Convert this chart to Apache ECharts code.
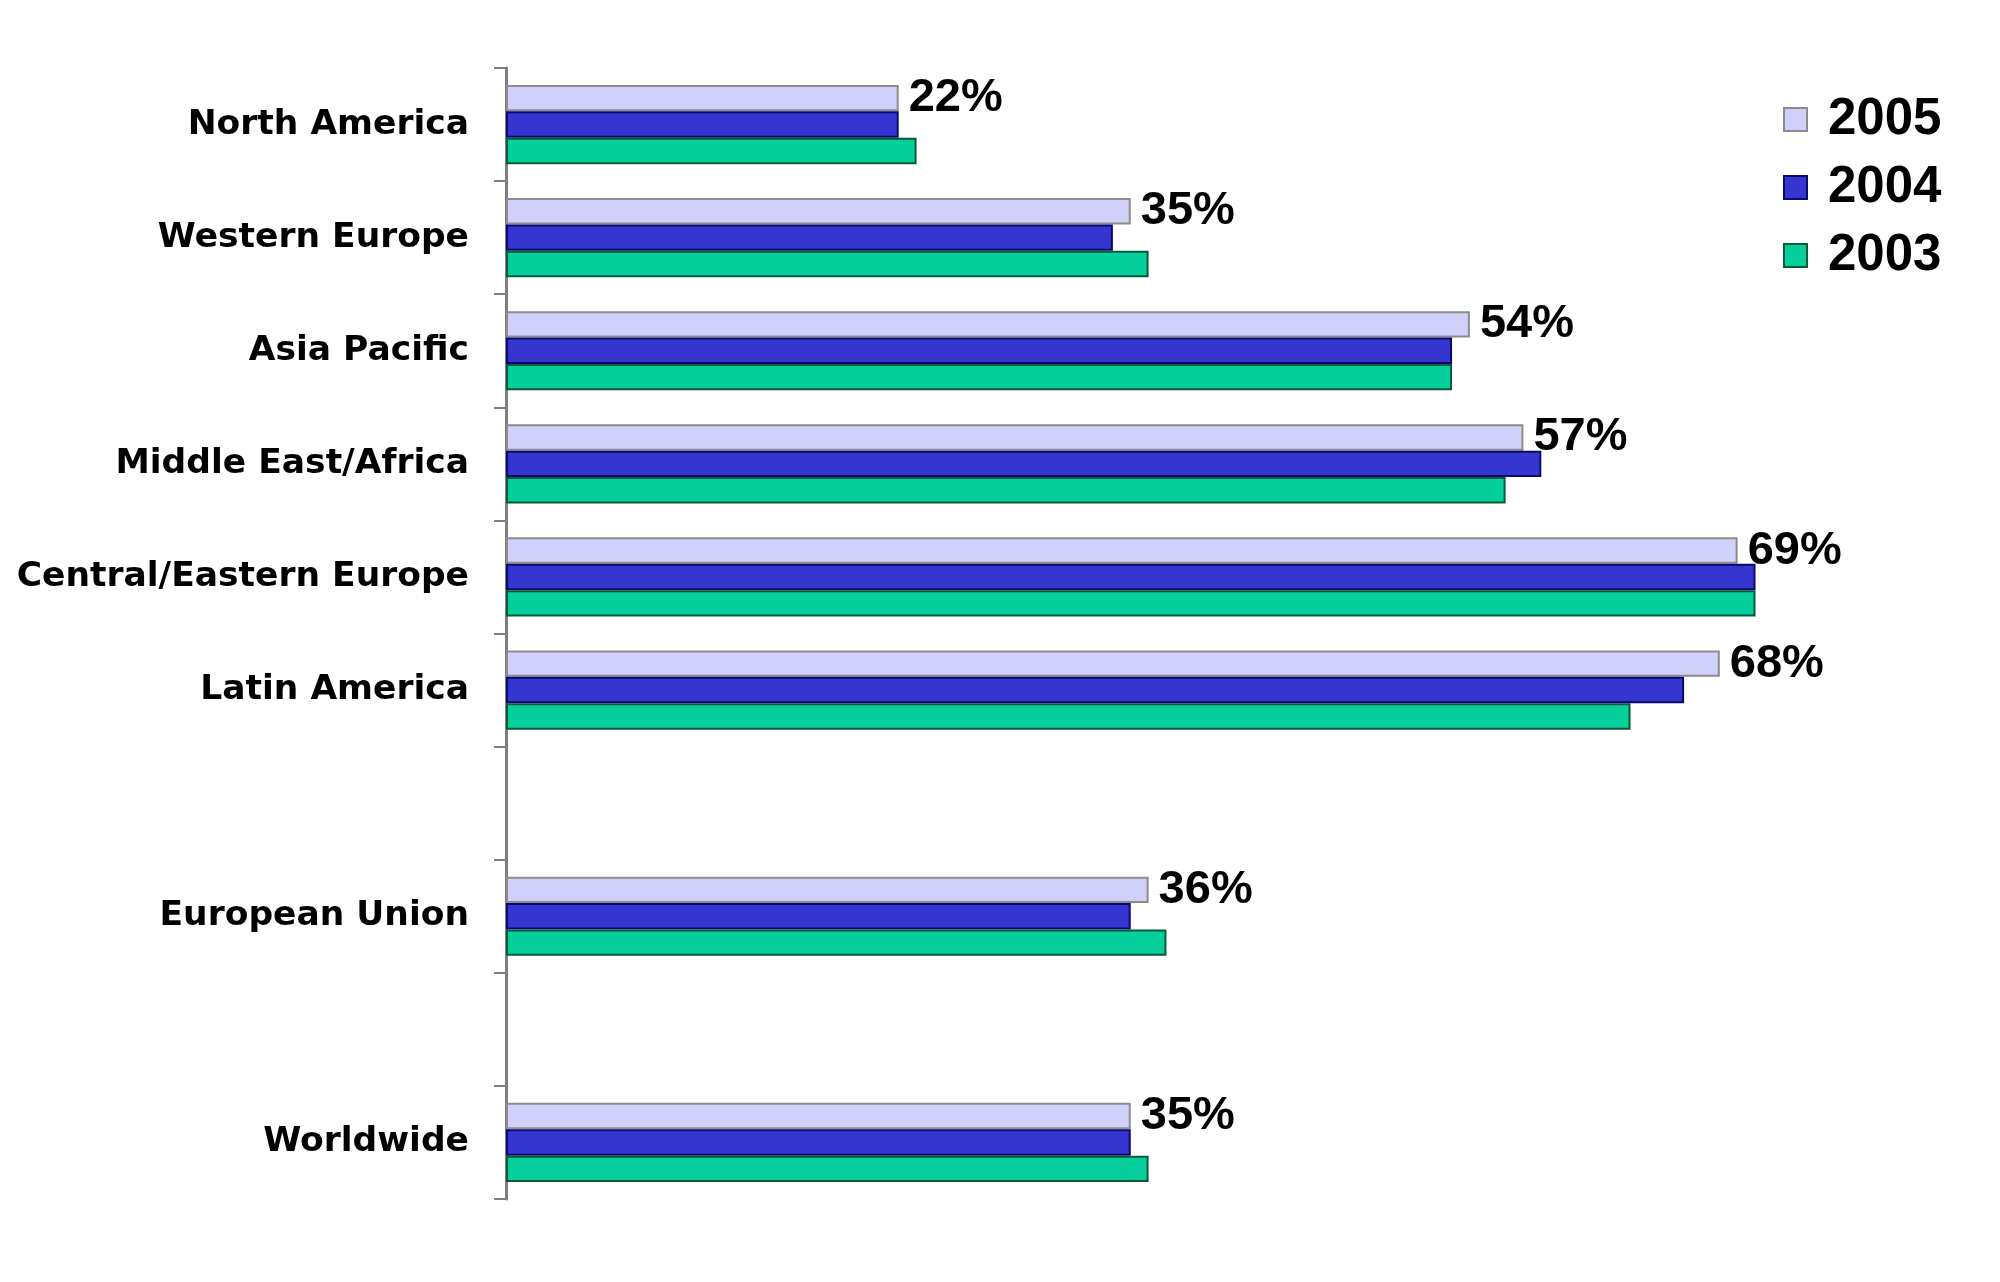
<!DOCTYPE html>
<html>
<head>
<meta charset="utf-8">
<script src="https://cdn.jsdelivr.net/npm/echarts@6/dist/echarts.min.js"></script>
<style>
html,body{margin:0;padding:0;background:#fff;}
#chart{width:2000px;height:1282px;}
</style>
</head>
<body>
<div id="chart"></div>
<script>
const categories = ['North America', 'Western Europe', 'Asia Pacific', 'Middle East/Africa',
  'Central/Eastern Europe', 'Latin America', '', 'European Union', '', 'Worldwide'];
const values2005 = [22, 35, 54, 57, 69, 68, null, 36, null, 35];
const values2004 = [22, 34, 53, 58, 70, 66, null, 35, null, 35];
const values2003 = [23, 36, 53, 56, 70, 63, null, 37, null, 36];
const seriesNames = ['2005', '2004', '2003'];

const chart = echarts.init(document.getElementById('chart'), null, {renderer: 'canvas'});
const labelFont = 'Liberation Sans, Arial, sans-serif';
chart.setOption({
  animation: false,
  backgroundColor: '#ffffff',
  grid: {left: 506, right: 66, top: 68, bottom: 83, containLabel: false},
  legend: {
    orient: 'vertical',
    left: 1778,
    top: 89,
    itemWidth: 23,
    itemHeight: 23,
    itemGap: 17,
    icon: 'rect',
    data: seriesNames,
    textStyle: {
      fontFamily: labelFont, fontWeight: 'bold', fontSize: 51, color: '#000',
      padding: [0, 0, 0, 16]
    }
  },
  xAxis: {
    type: 'value', min: 0, max: 80, show: false,
    splitLine: {show: false}
  },
  yAxis: {
    type: 'category',
    data: categories,
    inverse: true,
    axisLine: {show: true, lineStyle: {color: '#7f7f7f', width: 3}},
    axisTick: {show: true, length: 12, lineStyle: {color: '#7f7f7f', width: 2}},
    axisLabel: {
      fontFamily: 'DejaVu Sans, sans-serif', fontWeight: 'bold', fontSize: 34.5,
      color: '#000', margin: 37
    }
  },
  series: [
    {
      name: '2005', type: 'bar', data: values2005,
      barGap: '0%', barCategoryGap: '30%',
      itemStyle: {color: '#d0d0fa', borderColor: '#8c8c8c', borderWidth: 2},
      label: {
        show: true, position: 'right', distance: 10,
        formatter: p => p.value + '%',
        fontFamily: labelFont, fontWeight: 'bold', fontSize: 47, color: '#000'
      }
    },
    {
      name: '2004', type: 'bar', data: values2004,
      barGap: '0%', barCategoryGap: '30%',
      itemStyle: {color: '#3535cf', borderColor: '#0a0a6e', borderWidth: 2}
    },
    {
      name: '2003', type: 'bar', data: values2003,
      barGap: '0%', barCategoryGap: '30%',
      itemStyle: {color: '#05cf9a', borderColor: '#0a5a3a', borderWidth: 2}
    }
  ]
});
</script>
</body>
</html>
